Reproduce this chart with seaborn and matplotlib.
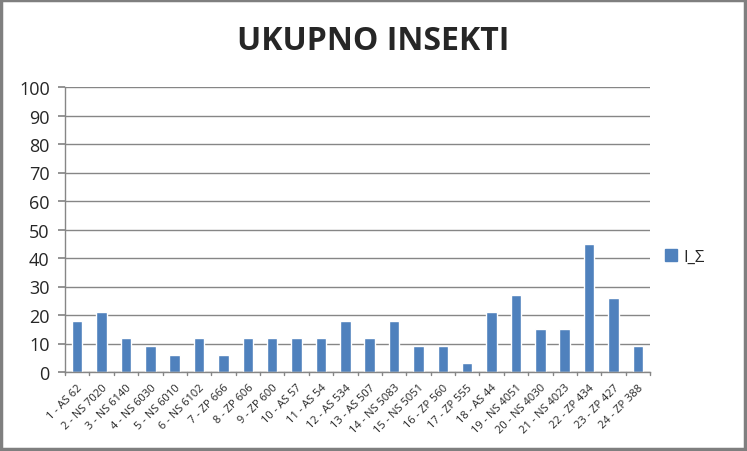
import matplotlib
matplotlib.use("Agg")
import matplotlib.pyplot as plt
import seaborn as sns
import pandas as pd
from matplotlib.patches import Rectangle

categories = ["1 - AS 62", "2 - NS 7020", "3 - NS 6140", "4 - NS 6030", "5 - NS 6010",
              "6 - NS 6102", "7 - ZP 666", "8 - ZP 606", "9 - ZP 600", "10 - AS 57",
              "11 - AS 54", "12 - AS 534", "13 - AS 507", "14 - NS 5083", "15 - NS 5051",
              "16 - ZP 560", "17 - ZP 555", "18 - AS 44", "19 - NS 4051", "20 - NS 4030",
              "21 - NS 4023", "22 - ZP 434", "23 - ZP 427", "24 - ZP 388"]
values = [18, 21, 12, 9, 6, 12, 6, 12, 12, 12, 12, 18, 12, 18, 9, 9, 3, 21, 27, 15, 15, 45, 26, 9]
series_name = "I_Σ"
title = "UKUPNO INSEKTI"
yticks = [0, 10, 20, 30, 40, 50, 60, 70, 80, 90, 100]

sns.set_theme(style="white")
plt.rcParams['font.family'] = ['Open Sans', 'DejaVu Sans']

df = pd.DataFrame({"cat": categories, "val": values, "series": series_name})

fig = plt.figure(figsize=(7.47, 4.52), dpi=100)
ax = fig.add_axes([65/747, 1 - 373/452, (650 - 65)/747, (373 - 88)/452])

sns.barplot(data=df, x="cat", y="val", hue="series", palette=["#4F81BD"],
            width=0.43, ax=ax, saturation=1, legend=False)

ax.set_ylim(0, 100)
ax.set_xlim(-0.5, len(categories) - 0.5)
ax.set_yticks(yticks)
ax.set_yticklabels([str(t) for t in yticks], fontsize=13)
ax.yaxis.grid(True, color="#868686", linewidth=1)
ax.set_axisbelow(True)
ax.set_xlabel("")
ax.set_ylabel("")
for s in ["top", "right"]:
    ax.spines[s].set_visible(False)
for s in ["left", "bottom"]:
    ax.spines[s].set_color("#868686")
    ax.spines[s].set_linewidth(1)

ax.set_xticks(range(len(categories)))
ax.set_xticklabels(categories, rotation=45, ha="right", rotation_mode="anchor", fontsize=8)
ax.tick_params(axis="x", length=0, pad=7)
ax.tick_params(axis="y", length=5, color="#868686", direction="out", left=True, pad=6)
for i in range(len(categories) + 1):
    ax.plot([i - 0.5, i - 0.5], [0, -1.2], color="#868686", lw=1, clip_on=False)

fig.text(373/747, 1 - 41/452, title, ha="center", va="center", fontsize=23, fontweight="bold")

handle = Rectangle((0, 0), 1, 1, color="#4F81BD")
fig.legend([handle], [series_name], loc="center left", bbox_to_anchor=(650/747, 1 - 258/452),
           frameon=False, fontsize=12, handlelength=0.7, handleheight=0.7, handletextpad=0.4)

fig.patches.append(Rectangle((0.002, 0.004), 0.995, 0.993, transform=fig.transFigure,
                             fill=False, edgecolor="#7f7f7f", linewidth=2.5))

fig.savefig("out.png", dpi=100)
